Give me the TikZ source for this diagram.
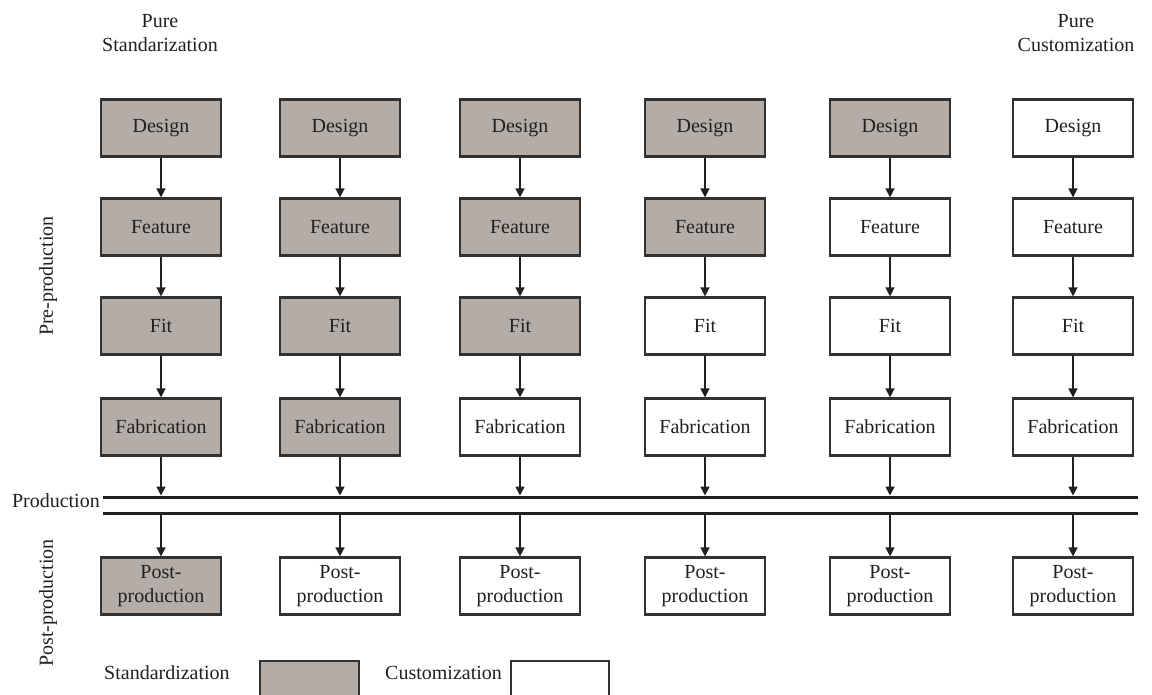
\documentclass[tikz,border=0pt]{standalone}
\usepackage{fontspec}
\setmainfont{Liberation Serif}
\usetikzlibrary{arrows.meta}
\definecolor{stdgray}{RGB}{180,172,167}
\definecolor{boxline}{RGB}{50,50,50}
\definecolor{inkcol}{RGB}{35,31,32}
\begin{document}
\begin{tikzpicture}[x=1pt,y=-1pt,
    font=\fontsize{20}{24.5}\selectfont, text=inkcol,
    stage/.style={draw=boxline, line width=2.2pt, minimum width=119.5pt,
        minimum height=57pt, inner sep=0pt, align=center},
    std/.style={stage, fill=stdgray},
    cus/.style={stage, fill=white},
    lbl/.style={inner sep=0pt, align=center},
    flow/.style={-{Triangle[length=9pt,width=9pt]}, line width=1.5pt, draw=inkcol},
    prodline/.style={line width=3pt, draw=inkcol}]
    \useasboundingbox (0,0) rectangle (1152,695);
    \clip (0,0) rectangle (1152,695);

    % Column headings
    \node[lbl] (pstd) at (160,33) {Pure\\Standarization};
    \node[lbl] (pcus) at (1076,33) {Pure\\Customization};

    % Steps of each column, shaded while standardized
    \foreach \x [count=\i] in {161,340,520,705,890,1073} {
        \foreach \name/\txt/\y [count=\r] in {d/Design/128, fe/Feature/227,
                fi/Fit/326, fa/Fabrication/427, pp/{Post-\\production}/586} {
            \ifnum\r>\numexpr6-\i\relax\def\sty{cus}\else\def\sty{std}\fi
            \node[\sty] (\name\i) at (\x,\y) {\txt};
        }
    }

    % Production lines
    \coordinate (top) at (0,497);
    \coordinate (bot) at (0,513);
    \draw[prodline] (103,497) coordinate (topL) -- (1138,497) coordinate (topR);
    \draw[prodline] (103,513) coordinate (botL) -- (1138,513) coordinate (botR);
    \node[lbl, anchor=east] (prod) at (100,501) {Production};

    % Arrows
    \foreach \i in {1,...,6} {
        \draw[flow] (d\i) -- (fe\i);
        \draw[flow] (fe\i) -- (fi\i);
        \draw[flow] (fi\i) -- (fa\i);
        \draw[flow, shorten >=1.5pt] (fa\i) -- (fa\i |- top);
        \draw[flow, shorten <=1.5pt] (pp\i |- bot) -- (pp\i);
    }

    % Phase labels
    \node[lbl, rotate=90] (pre) at (48,276) {Pre-production};
    \node[lbl, rotate=90] (post) at (48,603) {Post-production};

    % Legend
    \node[lbl, anchor=west] (lstd) at (104,673) {Standardization};
    \node[std, minimum width=99pt, minimum height=50pt, anchor=north west] (lstdbox) at (259,660) {};
    \node[lbl, anchor=west] (lcus) at (385,673) {Customization};
    \node[cus, minimum width=98pt, minimum height=50pt, anchor=north west] (lcusbox) at (510,660) {};
\end{tikzpicture}
\end{document}
